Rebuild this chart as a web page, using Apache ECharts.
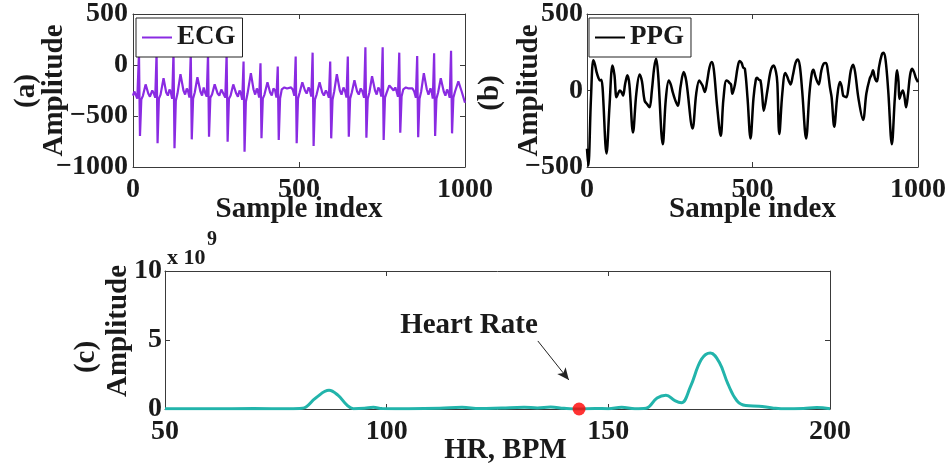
<!DOCTYPE html>
<html>
<head>
<meta charset="utf-8">
<script src="https://cdn.jsdelivr.net/npm/echarts@6/dist/echarts.min.js"></script>
<style>html,body{margin:0;padding:0;background:#fff}#c{width:950px;height:467px}</style>
</head>
<body>
<div id="c"></div>
<script>
// ---------- data ----------
const ecgXRange = [0, 1000];
const ecgYRange = [-1000, 500];
const ppgXRange = [0, 1000];
const ppgYRange = [-500, 500];
const hrXRange = [50, 200];
const hrYRange = [0, 10];

// ECG samples [index, amplitude]
const ecgPoints = [
  [0,-300],[4,-260],[8,-290],[13,-330],
  [18,120],[21,-696],[25,-340],[30,-300],[38,-190],[46,-280],[51,-310],[58,-250],[63,-280],[67,-320],
  [71,120],[74,-768],[78,-330],[83,-290],[92,-130],[100,-270],[105,-300],[110,-240],[114,-270],[118,-330],
  [122,130],[125,-817],[129,-350],[134,-280],[143,-90],[152,-250],[157,-290],[162,-230],[166,-260],[170,-320],
  [174,120],[177,-729],[181,-330],[186,-270],[194,-120],[203,-260],[208,-300],[213,-220],[217,-270],[222,-310],
  [226,110],[229,-703],[233,-320],[238,-290],[246,-190],[255,-280],[260,-300],[266,-240],[272,-280],[278,-320],
  [282,110],[285,-752],[289,-330],[294,-300],[302,-190],[311,-280],[316,-310],[321,-250],[325,-280],[329,-340],
  [333,33],[336,-850],[340,-360],[345,-280],[355,-80],[363,-240],[368,-290],[373,-230],[377,-270],[380,-320],
  [384,16],[387,-719],[391,-330],[396,-290],[405,-170],[413,-270],[418,-300],[423,-230],[428,-250],[432,-320],
  [436,-16],[439,-735],[443,-330],[448,-240],[456,-220],[464,-230],[470,-240],[476,-220],[481,-240],[486,-300],
  [490,82],[493,-768],[497,-330],[502,-270],[510,-170],[518,-250],[523,-280],[529,-220],[533,-250],[537,-310],
  [541,121],[544,-794],[548,-340],[553,-290],[562,-170],[570,-270],[575,-300],[581,-250],[586,-280],[590,-320],
  [594,33],[597,-719],[601,-340],[606,-260],[614,-90],[623,-250],[628,-290],[634,-220],[639,-260],[643,-320],
  [647,82],[650,-703],[654,-330],[659,-270],[667,-150],[675,-260],[680,-290],[686,-230],[691,-260],[696,-320],
  [700,173],[703,-713],[707,-330],[712,-270],[720,-110],[729,-250],[734,-290],[739,-220],[744,-250],[748,-310],
  [752,173],[755,-735],[759,-320],[764,-270],[772,-200],[780,-230],[785,-250],[790,-220],[794,-260],[798,-310],
  [802,121],[805,-663],[809,-310],[814,-240],[822,-220],[830,-230],[836,-240],[842,-230],[847,-260],[852,-320],
  [856,88],[859,-709],[863,-330],[868,-260],[876,-80],[885,-240],[890,-290],[896,-230],[900,-270],[903,-330],
  [907,114],[910,-696],[914,-330],[919,-270],[927,-130],[936,-260],[941,-300],[946,-240],[950,-270],[954,-320],
  [958,140],[961,-670],[965,-320],[970,-260],[980,-160],[990,-260],[1000,-370]
];

// PPG samples [index, amplitude]
const ppgPoints = [
  [0,-380],[4,-490],[12,-50],[19,197],[24,170],[29,120],[35,80],[39,66],[43,70],[47,20],[59,-412],
  [68,-100],[77,164],[83,100],[89,-44],[94,-20],[99,0],[104,-10],[109,-33],[115,40],[122,99],[128,40],
  [139,-274],[149,-20],[159,105],[166,60],[174,-66],[182,-90],[189,-110],[196,0],[203,150],[209,208],
  [215,100],[229,-351],[238,-60],[247,66],[253,40],[259,-11],[266,-60],[274,-99],[283,30],[292,121],
  [300,60],[319,-248],[330,-20],[339,66],[344,50],[349,33],[356,-10],[363,60],[370,150],[377,186],
  [383,140],[393,-100],[404,-296],[412,-60],[421,66],[426,60],[431,48],[435,40],[439,-22],[447,40],
  [455,150],[461,193],[467,180],[472,150],[477,142],[485,-50],[494,-314],[503,-50],[510,70],[514,83],
  [519,70],[524,66],[529,-20],[534,-132],[545,0],[555,130],[564,164],[571,121],[575,50],[581,-285],
  [590,-20],[599,114],[605,90],[609,66],[615,40],[622,100],[630,180],[637,202],[643,160],[650,0],
  [662,-314],[672,-20],[679,110],[684,136],[689,100],[694,66],[700,40],[708,130],[715,175],[722,180],
  [728,120],[734,20],[739,-44],[747,-237],[756,-40],[764,55],[769,30],[774,-33],[779,-40],[784,-44],
  [790,20],[797,130],[804,169],[810,120],[820,-50],[834,-193],[844,-20],[854,77],[859,100],[864,132],
  [870,80],[876,60],[882,150],[890,230],[896,246],[902,200],[910,0],[921,-351],[930,-50],[937,132],
  [941,60],[944,-55],[949,-20],[954,0],[959,-40],[964,-110],[970,-20],[976,100],[982,142],[988,120],
  [994,80],[1000,55]
];

// Spectrum [HR (BPM), amplitude x 1e9]
const spectrumPoints = [
  [50,0.02],[60,0.02],[70,0.03],[78,0.02],[81,0.05],[84,0.8],[87,1.35],[89,1.0],[91,0.3],[92.5,0.02],
  [95,0.05],[97,0.12],[99,0.03],[105,0.02],[112,0.05],[117,0.12],[121,0.04],[126,0.08],[131,0.12],
  [134,0.08],[137,0.14],[140,0.05],[143.4,0],[147,0.04],[150,0.02],[153,0.12],[156,0.02],[158.5,0.05],
  [161,0.8],[163,1.0],[165,0.6],[166.5,0.45],[168.5,1.6],[171,3.6],[173,4.06],[175,3.4],[177,1.8],
  [179,0.6],[181,0.25],[184,0.2],[187,0.08],[190,0.01],[194,0.04],[197,0.1],[200,0.02]
];

const heartRatePoint = [[143.4, 0]];
const arrowStart = [134.1, 4.93];
const arrowEnd = [141.1, 2.1];

// ---------- styles ----------
const FONT = '"Liberation Serif", "Times New Roman", serif';
const TXT = '#1a1a1a';
const AX = '#3a3a3a';

function fmt(v) { return String(v).replace('-', '\u2212'); }

function mainX(grid, range, interval, name, nameGap, margin, namePad) {
  return {
    gridIndex: grid, type: 'value', min: range[0], max: range[1], interval: interval,
    name: name, nameLocation: 'middle', nameGap: nameGap, nameMoveOverlap: false,
    nameTextStyle: { fontFamily: FONT, fontWeight: 'bold', fontSize: 29, color: TXT, lineHeight: 29, padding: namePad || 0 },
    axisLine: { show: true, onZero: false, lineStyle: { color: AX, width: 1 } },
    axisTick: { show: true, inside: true, length: 5, lineStyle: { color: AX } },
    axisLabel: { show: true, margin: margin, showMinLabel: true, showMaxLabel: true, hideOverlap: false, fontFamily: FONT, fontWeight: 'bold', fontSize: 28, color: TXT, lineHeight: 28, formatter: fmt },
    splitLine: { show: false }
  };
}
function topX(grid, range, interval) {
  return {
    gridIndex: grid, type: 'value', position: 'top', min: range[0], max: range[1], interval: interval,
    axisLine: { show: true, onZero: false, lineStyle: { color: AX, width: 1 } },
    axisTick: { show: true, inside: true, length: 5, lineStyle: { color: AX } },
    axisLabel: { show: false }, splitLine: { show: false }
  };
}
function mainY(grid, range, interval, nameGap, margin, namePad) {
  return {
    gridIndex: grid, type: 'value', min: range[0], max: range[1], interval: interval,
    name: 'Amplitude', nameLocation: 'middle', nameGap: nameGap, nameRotate: 90, nameMoveOverlap: false,
    nameTextStyle: { fontFamily: FONT, fontWeight: 'bold', fontSize: 29, color: TXT, lineHeight: 29, padding: namePad || 0 },
    axisLine: { show: true, onZero: false, lineStyle: { color: AX, width: 1 } },
    axisTick: { show: true, inside: true, length: 5, lineStyle: { color: AX } },
    axisLabel: { show: true, margin: margin, showMinLabel: true, showMaxLabel: true, hideOverlap: false, fontFamily: FONT, fontWeight: 'bold', fontSize: 28, color: TXT, formatter: fmt },
    splitLine: { show: false }
  };
}
function rightY(grid, range, interval) {
  return {
    gridIndex: grid, type: 'value', position: 'right', min: range[0], max: range[1], interval: interval,
    axisLine: { show: true, onZero: false, lineStyle: { color: AX, width: 1 } },
    axisTick: { show: true, inside: true, length: 5, lineStyle: { color: AX } },
    axisLabel: { show: false }, splitLine: { show: false }
  };
}
function legendBox(name, left) {
  return {
    data: [name], left: left, top: 18, orient: 'horizontal',
    icon: 'rect', itemWidth: 30, itemHeight: 2,
    padding: [5, 7, 5, 6], borderColor: '#222', borderWidth: 1, backgroundColor: '#fff',
    textStyle: { fontFamily: FONT, fontWeight: 'bold', fontSize: 27, color: TXT, lineHeight: 29 },
    selectedMode: false, z: 10
  };
}
function panelLetter(text, x, y) {
  return {
    type: 'text', x: x, y: y, rotation: Math.PI / 2, z: 100,
    style: { text: text, font: 'bold 29px ' + FONT, fill: TXT, textAlign: 'center', textVerticalAlign: 'middle', align: 'center', verticalAlign: 'middle' }
  };
}

const chart = echarts.init(document.getElementById('c'), null, { renderer: 'canvas' });
chart.setOption({
  animation: false,
  backgroundColor: '#fff',
  grid: [
    { left: 133, top: 14, width: 332, height: 153 },
    { left: 587, top: 14, width: 331, height: 153 },
    { left: 165, top: 271, width: 665, height: 138 }
  ],
  legend: [legendBox('ECG', 136), legendBox('PPG', 589)],
  xAxis: [
    mainX(0, ecgXRange, 500, 'Sample index', 28, 9), topX(0, ecgXRange, 500),
    mainX(1, ppgXRange, 500, 'Sample index', 28, 9), topX(1, ppgXRange, 500),
    mainX(2, hrXRange, 50, 'HR, BPM', 27, 9, [0, 0, 0, 16]), topX(2, hrXRange, 50)
  ],
  yAxis: [
    mainY(0, ecgYRange, 500, 64, 5), rightY(0, ecgYRange, 500),
    mainY(1, ppgYRange, 500, 43, 4), rightY(1, ppgYRange, 500),
    mainY(2, hrYRange, 5, 32, 3, [0, 0, 0, 18]), rightY(2, hrYRange, 5)
  ],
  graphic: [
    panelLetter('(a)', 27, 91),
    panelLetter('(b)', 491, 93),
    panelLetter('(c)', 87, 357),
    { type: 'text', x: 167, y: 258, z: 100, style: { text: 'x 10', font: 'bold 22px ' + FONT, fill: TXT, textAlign: 'left', textVerticalAlign: 'middle', align: 'left', verticalAlign: 'middle' } },
    { type: 'text', x: 207, y: 240, z: 100, style: { text: '9', font: 'bold 20px ' + FONT, fill: TXT, textAlign: 'left', textVerticalAlign: 'middle', align: 'left', verticalAlign: 'middle' } },
    { type: 'text', x: 469, y: 326, z: 100, style: { text: 'Heart Rate', font: 'bold 29px ' + FONT, fill: TXT, textAlign: 'center', textVerticalAlign: 'middle', align: 'center', verticalAlign: 'middle' } }
  ],
  series: [
    { type: 'line', name: 'ECG', xAxisIndex: 0, yAxisIndex: 0, data: ecgPoints, showSymbol: false, symbol: 'none',
      lineStyle: { color: '#8a2be2', width: 2.2 }, itemStyle: { color: '#8a2be2' }, z: 2 },
    { type: 'line', name: 'PPG', xAxisIndex: 2, yAxisIndex: 2, data: ppgPoints, showSymbol: false, symbol: 'none', smooth: 0.35,
      lineStyle: { color: '#000', width: 2.5 }, itemStyle: { color: '#000' }, z: 2 },
    { type: 'line', name: 'Spectrum', xAxisIndex: 4, yAxisIndex: 4, data: spectrumPoints, showSymbol: false, symbol: 'none', smooth: 0.4,
      lineStyle: { color: '#22b4ab', width: 3 }, itemStyle: { color: '#22b4ab' }, z: 3 },
    { type: 'scatter', name: 'Heart Rate', xAxisIndex: 4, yAxisIndex: 4, data: heartRatePoint, symbolSize: 13,
      itemStyle: { color: '#ff0000' }, z: 5, clip: false,
      markLine: { silent: true, symbol: ['none', 'arrow'], symbolSize: [8, 12], label: { show: false },
        lineStyle: { color: '#222', width: 1, type: 'solid' },
        data: [[{ coord: arrowStart }, { coord: arrowEnd }]] } }
  ]
});
</script>
</body>
</html>
